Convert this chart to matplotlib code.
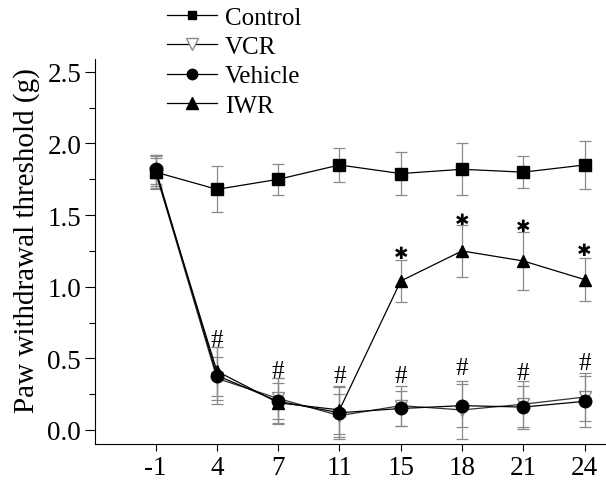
import numpy as np
import matplotlib
matplotlib.use("Agg")
import matplotlib.pyplot as plt
from matplotlib.lines import Line2D

plt.rcParams["font.family"] = ["Liberation Serif", "DejaVu Serif"]

days = ["-1", "4", "7", "11", "15", "18", "21", "24"]

control = [1.80, 1.68, 1.75, 1.85, 1.79, 1.82, 1.80, 1.85]
control_err = [0.12, 0.16, 0.11, 0.12, 0.15, 0.18, 0.11, 0.17]

vcr = [1.80, 0.36, 0.22, 0.10, 0.17, 0.14, 0.18, 0.23]
vcr_err = [0.10, 0.15, 0.14, 0.15, 0.14, 0.20, 0.16, 0.17]

vehicle = [1.82, 0.38, 0.20, 0.12, 0.15, 0.17, 0.16, 0.20]
vehicle_err = [0.10, 0.20, 0.16, 0.18, 0.12, 0.15, 0.15, 0.18]

iwr = [1.80, 0.41, 0.19, 0.14, 1.04, 1.25, 1.18, 1.05]
iwr_err = [0.11, 0.17, 0.14, 0.17, 0.15, 0.18, 0.20, 0.15]

# significance marks: (day index, y)
hash_marks = [(1, 0.63), (2, 0.415), (3, 0.375), (4, 0.375), (5, 0.435), (6, 0.395), (7, 0.465)]
star_marks = [(4, 1.25), (5, 1.48), (6, 1.44), (7, 1.27)]

GREY = "#8a8a8a"

fig = plt.figure(figsize=(6.06, 4.81), dpi=100)
ax = fig.add_axes([0.1568, 0.0748, 0.8432, 0.8005])
x = np.arange(len(days))

ebkw = dict(ecolor=GREY, elinewidth=0.9, capsize=4, capthick=0.9)
ax.errorbar(x, control, yerr=control_err, fmt="-", color="black", lw=0.9,
            marker="s", ms=8, mfc="black", mec="black", zorder=3, **ebkw)
ax.errorbar(x, vcr, yerr=vcr_err, fmt="-", color="#333333", lw=0.9,
            marker="v", ms=9, mfc="white", mec=GREY, zorder=3, **ebkw)
ax.errorbar(x, vehicle, yerr=vehicle_err, fmt="-", color="black", lw=0.9,
            marker="o", ms=9, mfc="black", mec="black", zorder=4, **ebkw)
ax.errorbar(x, iwr, yerr=iwr_err, fmt="-", color="black", lw=0.9,
            marker="^", ms=9, mfc="black", mec="black", zorder=4, **ebkw)

for i, yv in hash_marks:
    ax.text(x[i], yv, "#", ha="center", va="center", fontsize=18)
for i, yv in star_marks:
    ax.text(x[i], yv, "\u2731", ha="center", va="center_baseline", fontsize=12.5,
            family="DejaVu Sans")

ax.set_xlim(-0.99, 7.35)
ax.set_ylim(-0.098, 2.59)
ax.set_xticks(x)
ax.set_xticklabels(days)
ax.set_yticks([0.0, 0.5, 1.0, 1.5, 2.0, 2.5])
ax.set_yticklabels(["0.0", "0.5", "1.0", "1.5", "2.0", "2.5"])
ax.set_yticks(np.arange(0.25, 2.5, 0.5), minor=True)
ax.tick_params(axis="y", which="major", length=7, width=0.8, labelsize=19.5, pad=3)
ax.tick_params(axis="y", which="minor", length=4, width=0.8)
ax.tick_params(axis="x", length=5, width=0.8, labelsize=19.5, pad=3)
for s in ["top", "right"]:
    ax.spines[s].set_visible(False)
for s in ["left", "bottom"]:
    ax.spines[s].set_linewidth(0.8)
ax.set_ylabel("Paw withdrawal threshold (g)", fontsize=21, labelpad=5, y=0.53)

handles = [
    Line2D([], [], color="black", lw=0.9, marker="s", ms=6, mfc="black", mec="black"),
    Line2D([], [], color="black", lw=0.9, marker="v", ms=8, mfc="white", mec=GREY),
    Line2D([], [], color="black", lw=0.9, marker="o", ms=7.5, mfc="black", mec="black"),
    Line2D([], [], color="black", lw=0.9, marker="^", ms=8, mfc="black", mec="black"),
]
fig.legend(handles, ["Control", "VCR", "Vehicle", "IWR"], loc="upper left",
           bbox_to_anchor=(0.272, 0.99), frameon=False, fontsize=18,
           handlelength=2.0, handletextpad=0.3, labelspacing=0.27,
           borderaxespad=0, borderpad=0.1)

fig.savefig("out.png", dpi=100)
